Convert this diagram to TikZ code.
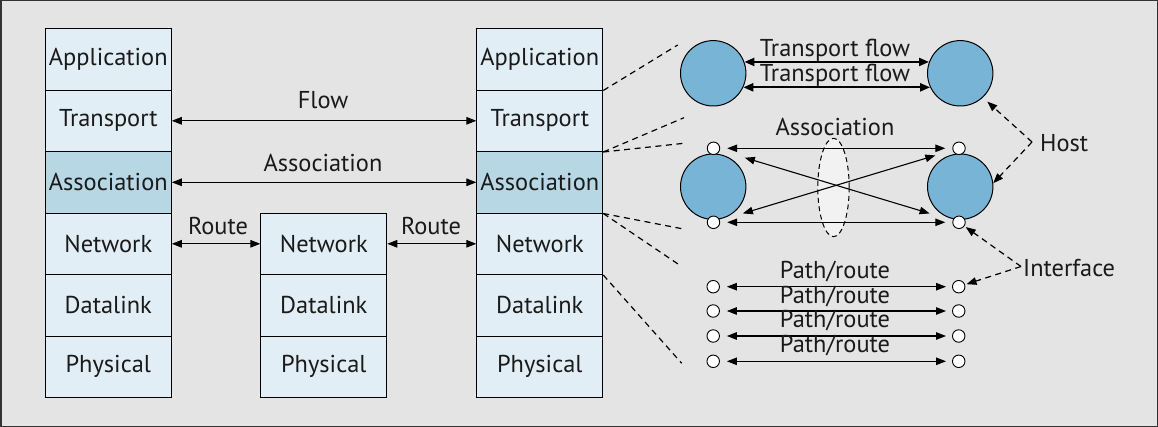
\documentclass[tikz,border=0pt]{standalone}
\usepackage{fontspec}
\setmainfont{PT Sans}
\usetikzlibrary{arrows.meta,shapes.geometric}
\definecolor{bgc}{HTML}{E4E4E4}
\definecolor{framec}{HTML}{333333}
\definecolor{layerc}{HTML}{E2EEF5}
\definecolor{assocc}{HTML}{B8D7E5}
\definecolor{hostc}{HTML}{78B4D6}
\definecolor{ellc}{HTML}{F2F2F2}
\definecolor{txtc}{HTML}{1A1A1A}
\tikzset{
  every node/.style={text=txtc},
  lbl/.style={font=\fontsize{24.4}{26}\selectfont, inner sep=0pt},
  layer/.style={draw=black, line width=0.9pt, fill=layerc, minimum width=126pt, minimum height=61.5pt, inner sep=0pt, font=\fontsize{24.4}{26}\selectfont},
  assoclayer/.style={layer, fill=assocc},
  hostnode/.style={circle, draw=black, line width=1pt, fill=hostc, minimum size=65.4pt, inner sep=0pt},
  ifnode/.style={circle, draw=black, line width=0.9pt, fill=white, minimum size=12.5pt, inner sep=0pt},
  dbl/.style={{Triangle[length=10pt,width=7.5pt]}-{Triangle[length=10pt,width=7.5pt]}, line width=1.1pt},
  thickdbl/.style={{Triangle[length=10pt,width=8pt]}-{Triangle[length=10pt,width=8pt]}, line width=2.2pt},
  dashline/.style={dash pattern=on 6pt off 4.5pt, line width=1.2pt},
  dasharrow/.style={dash pattern=on 6pt off 4.5pt, line width=1.2pt, -{Triangle[length=10pt,width=7.5pt]}},
}
\begin{document}
\begin{tikzpicture}[x=1pt,y=-1pt]
\path[fill=bgc, draw=framec, line width=1.5pt] (0.75,0.75) rectangle (1157.25,426.25);
\useasboundingbox (0,0) rectangle (1158,427);

% left stack
\node[layer] (L1) at (108.3,59.3) {Application};
\node[layer] (L2) at (108.3,120.8) {Transport};
\node[assoclayer] (L3) at (108.3,182.3) {Association};
\node[layer] (L4) at (108.3,243.8) {Network};
\node[layer] (L5) at (108.3,305.3) {Datalink};
\node[layer] (L6) at (108.3,366.8) {Physical};
% middle stack
\node[layer] (M4) at (323.8,243.8) {Network};
\node[layer] (M5) at (323.8,305.3) {Datalink};
\node[layer] (M6) at (323.8,366.8) {Physical};
% right stack
\node[layer] (R1) at (539.8,59.3) {Application};
\node[layer] (R2) at (539.8,120.8) {Transport};
\node[assoclayer] (R3) at (539.8,182.3) {Association};
\node[layer] (R4) at (539.8,243.8) {Network};
\node[layer] (R5) at (539.8,305.3) {Datalink};
\node[layer] (R6) at (539.8,366.8) {Physical};

% stack arrows
\draw[dbl] (L2.east) -- (R2.west);
\draw[dbl] (L3.east) -- (R3.west);
\draw[dbl] (L4.east) -- (M4.west);
\draw[dbl] (M4.east) -- (R4.west);
\node[lbl] (flow) at (323,100) {Flow};
\node[lbl] (assoc) at (323,163) {Association};
\node[lbl] (route1) at (218,226.5) {Route};
\node[lbl] (route2) at (431,226.5) {Route};

% dashed zoom lines
\coordinate (z1) at (677.7,45);
\coordinate (z2) at (684,117.7);
\coordinate (z3) at (684,143.3);
\coordinate (z4) at (685,229.3);
\coordinate (z5) at (678,264);
\coordinate (z6) at (681.7,363.3);
\draw[dashline] (R1.south east) -- (z1);
\draw[dashline] (R2.south east) -- (z2);
\draw[dashline] (R2.south east) -- (z3);
\draw[dashline] (R3.south east) -- (z4);
\draw[dashline] (R3.south east) -- (z5);
\draw[dashline] (R4.south east) -- (z6);

% transport group
\node[hostnode] (hA) at (713.2,73.3) {};
\node[hostnode] (hB) at (960.2,73.3) {};
\draw[thickdbl] (hA.20) -- (hB.160);
\draw[thickdbl] (hA.-25) -- (hB.-155);
\node[lbl] (tf1) at (835,50) {Transport flow};
\node[lbl] (tf2) at (835,75.5) {Transport flow};

% association group
\node[ellipse, draw=black, dash pattern=on 5pt off 3.5pt, line width=1pt, fill=ellc, minimum width=31.4pt, minimum height=98.4pt, inner sep=0pt] (ell) at (833.5,187.5) {};
\node[hostnode] (hC) at (713.2,186.7) {};
\node[hostnode] (hD) at (960.2,186.7) {};
\node[ifnode] (iA) at (713.5,148.3) {};
\node[ifnode] (iB) at (959,148.3) {};
\node[ifnode] (iC) at (713.5,222.3) {};
\node[ifnode] (iD) at (959,222.3) {};
\draw[dbl, shorten <=7pt, shorten >=7pt] (iA) -- (iB);
\draw[dbl, shorten <=7pt, shorten >=7pt] (iC) -- (iD);
\draw[dbl, shorten <=26pt, shorten >=24pt] (iA) -- (iD);
\draw[dbl, shorten <=24pt, shorten >=18pt] (iC) -- (iB);
\node[lbl] (assoc2) at (835,126.5) {Association};

% path group
\foreach \i/\y in {1/286.7,2/311,3/336,4/361.3}{
  \node[ifnode] (pL\i) at (713.2,\y) {};
  \node[ifnode] (pR\i) at (958.7,\y) {};
  \draw[dbl, shorten <=7pt, shorten >=6pt] (pL\i) -- (pR\i);
}
\node[lbl] (pr1) at (835,271.5) {Path/route};
\node[lbl] (pr2) at (835,296.2) {Path/route};
\node[lbl] (pr3) at (835,320.6) {Path/route};
\node[lbl] (pr4) at (835,345.6) {Path/route};

% host / interface labels
\node[lbl, anchor=west] (host) at (1040,143.3) {Host};
\coordinate (hostp) at (1032,142);
\draw[dasharrow, shorten >=6pt] (hostp) -- (hB.-47);
\draw[dasharrow] (hostp) -- (hD.6);
\node[lbl, anchor=west] (iface) at (1023,268.3) {Interface};
\coordinate (ifp) at (1021,266.5);
\draw[dasharrow, shorten >=1.5pt] (ifp) -- (iD);
\draw[dasharrow, shorten >=1.5pt] (ifp) -- (pR1);
\end{tikzpicture}
\end{document}
